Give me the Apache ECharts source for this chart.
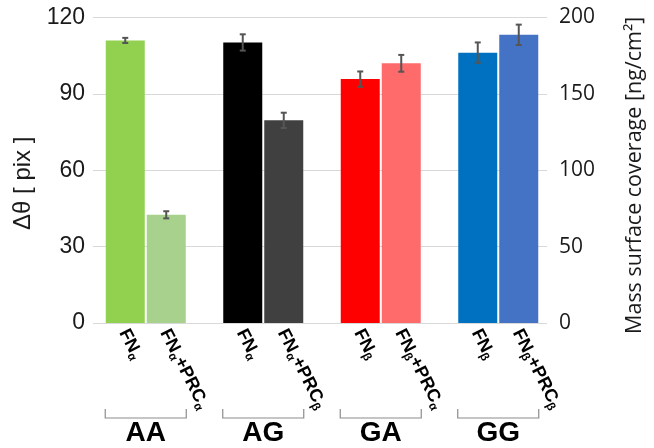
<!DOCTYPE html>
<html>
<head>
<meta charset="utf-8">
<script src="https://cdn.jsdelivr.net/npm/echarts@6/dist/echarts.min.js"></script>
<style>html,body{margin:0;padding:0;background:#fff;}#c{width:654px;height:448px;}</style>
</head>
<body>
<div id="c"></div>
<script>
const groups = ['AA', 'AG', 'GA', 'GG'];
const fnValues = [111, 110.2, 95.8, 106.2];
const fnErr = [1, 3.2, 3, 4];
const prcValues = [42.5, 79.6, 102, 113.2];
const prcErr = [1.4, 3, 3.3, 4];
const fnSub = ['α', 'α', 'β', 'β'];
const prcSub1 = ['α', 'α', 'β', 'β'];
const prcSub2 = ['α', 'β', 'α', 'β'];
const fnColors = ['#92d050', '#000000', '#ff0000', '#0070c0'];
const prcColors = ['#a9d18e', '#404040', '#ff6b6b', '#4472c4'];
const leftTicks = [0, 30, 60, 90, 120];
const rightTicks = [0, 50, 100, 150, 200];

const BAR_W = 39, BAR_GAP = 2;
const chart = echarts.init(document.getElementById('c'));

const richStyle = {
  m: { fontSize: 18, fontWeight: 'bold', fontFamily: 'Liberation Sans', color: '#000', lineHeight: 20, verticalAlign: 'top' },
  s: { fontSize: 12, fontWeight: 'bold', fontFamily: 'Liberation Sans', color: '#000', lineHeight: 13, verticalAlign: 'bottom', padding: [11, 0, 0, 0] }
};
const barLabel = (fmt) => ({
  show: true, position: 'bottom', distance: 13, rotate: -63, align: 'left', verticalAlign: 'middle',
  offset: [-6, 0],
  formatter: fmt, rich: richStyle
});

const errData = [];
fnValues.forEach((v, i) => errData.push([i, v, fnErr[i], -1]));
prcValues.forEach((v, i) => errData.push([i, v, prcErr[i], 1]));

chart.setOption({
  animation: false,
  backgroundColor: '#fff',
  grid: [
    { left: 93, right: 106, top: 17.5, bottom: 125 },
    { left: 87, right: 97, top: 17.5, bottom: 125 }
  ],
  xAxis: [
    { gridIndex: 0, type: 'category', data: groups, show: false },
    { gridIndex: 1, type: 'category', data: groups,
      axisLine: { show: false }, axisTick: { show: false },
      axisLabel: { margin: 96, fontSize: 28, fontWeight: 'bold', fontFamily: 'Liberation Sans', color: '#000' } }
  ],
  yAxis: [
    { gridIndex: 0, type: 'value', min: leftTicks[0], max: leftTicks[leftTicks.length - 1], interval: 30,
      axisLine: { show: false }, axisTick: { show: false },
      splitLine: { lineStyle: { color: '#d9d9d9', width: 1 } },
      axisLabel: { fontSize: 23, fontFamily: 'Liberation Sans', color: '#1a1a1a', margin: 8 },
      name: 'Δθ [ pix ]', nameLocation: 'middle', nameGap: 52,
      nameTextStyle: { fontSize: 24, fontFamily: 'Liberation Sans', color: '#1a1a1a', padding: [0, 26, 0, 0] } },
    { gridIndex: 0, type: 'value', position: 'right', min: rightTicks[0], max: rightTicks[rightTicks.length - 1], interval: 50,
      axisLine: { show: false }, axisTick: { show: false }, splitLine: { show: false },
      axisLabel: { fontSize: 21, fontFamily: 'Open Sans', color: '#1a1a1a', margin: 12 },
      name: 'Mass surface coverage [ng/cm²]', nameLocation: 'middle', nameGap: 77,
      nameTextStyle: { fontSize: 21.5, fontFamily: 'Open Sans', color: '#1a1a1a', padding: [0, 10, 0, 0] } },
    { gridIndex: 1, type: 'value', min: 0, max: 120, show: false }
  ],
  series: [
    { type: 'bar', xAxisIndex: 1, yAxisIndex: 2, barWidth: BAR_W, barGap: (BAR_GAP / BAR_W * 100) + '%',
      data: fnValues.map((v, i) => ({ value: v, itemStyle: { color: fnColors[i] } })),
      label: barLabel(p => '{m|FN}{s|' + fnSub[p.dataIndex] + '}') },
    { type: 'bar', xAxisIndex: 1, yAxisIndex: 2, barWidth: BAR_W,
      data: prcValues.map((v, i) => ({ value: v, itemStyle: { color: prcColors[i] } })),
      label: barLabel(p => '{m|FN}{s|' + prcSub1[p.dataIndex] + '}{m|+PRC}{s|' + prcSub2[p.dataIndex] + '}') },
    { type: 'custom', xAxisIndex: 1, yAxisIndex: 2, data: errData, z: 10,
      renderItem: (params, api) => {
        const off = api.value(3) * (BAR_W + BAR_GAP) / 2;
        const top = api.coord([api.value(0), api.value(1) + api.value(2)]);
        const bot = api.coord([api.value(0), api.value(1) - api.value(2)]);
        const x = top[0] + off;
        const st = { stroke: '#555', lineWidth: 2, fill: null };
        return { type: 'group', children: [
          { type: 'line', shape: { x1: x, y1: top[1], x2: x, y2: bot[1] }, style: st },
          { type: 'line', shape: { x1: x - 3, y1: top[1], x2: x + 3, y2: top[1] }, style: st },
          { type: 'line', shape: { x1: x - 3, y1: bot[1], x2: x + 3, y2: bot[1] }, style: st }
        ] };
      } },
    { type: 'custom', xAxisIndex: 1, yAxisIndex: 2, data: groups.map((g, i) => [i]), clip: false,
      renderItem: (params, api) => {
        const c = api.coord([api.value(0), 0]);
        const half = BAR_W + BAR_GAP / 2 + 0.5;
        const y = c[1] + 95;
        return { type: 'polyline', shape: { points: [[c[0] - half, y - 9], [c[0] - half, y], [c[0] + half, y], [c[0] + half, y - 9]] },
          style: { stroke: '#8c8c8c', lineWidth: 1.2, fill: null } };
      } }
  ]
});
</script>
</body>
</html>
